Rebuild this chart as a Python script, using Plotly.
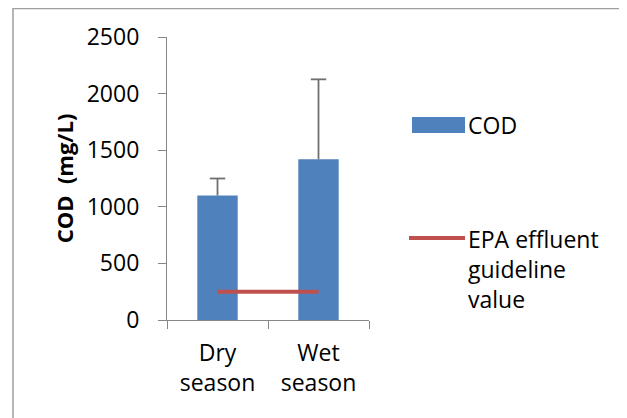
import plotly.graph_objects as go

categories = ["Dry<br>season", "Wet<br>season"]
cod_values = [1100, 1420]
cod_err_plus = [150, 706]
epa_values = [250, 250]
series_names = ["COD", "EPA effluent<br>guideline<br>value"]
y_ticks = [0, 500, 1000, 1500, 2000, 2500]

BLUE = "#4F81BD"
RED = "#C0504D"
AXIS = "#868686"
ERR = "#6f6f6f"
FONT = "Open Sans"
FS = 23

fig = go.Figure()
fig.add_trace(go.Bar(
    x=categories, y=cod_values, name=series_names[0],
    marker=dict(color=BLUE, line=dict(width=0)),
    showlegend=False,
))
# plus-only error bars (stem + top cap)
err_x, err_y = [], []
for c, v, e in zip(categories, cod_values, cod_err_plus):
    err_x += [c, c, None]
    err_y += [v, v + e, None]
fig.add_trace(go.Scatter(
    x=err_x, y=err_y, mode="lines", line=dict(color=ERR, width=1.8),
    showlegend=False, hoverinfo="skip",
))
fig.add_trace(go.Scatter(
    x=categories, y=[v + e for v, e in zip(cod_values, cod_err_plus)],
    mode="markers",
    marker=dict(symbol="line-ew", size=11, line=dict(color=ERR, width=1.8)),
    showlegend=False, hoverinfo="skip",
))
fig.add_trace(go.Scatter(
    x=categories, y=epa_values, name=series_names[1], mode="lines",
    line=dict(color=RED, width=4), showlegend=False,
))

# page body has an 8px margin, so figure origin is at (8, 8) in the window
OFF = 8
W, H = 627 - OFF, 418 - OFF
L, R, T, B = 167, 369, 37, 320   # plot area in window pixels
def px(xp):
    return (xp - L) / (R - L)
def py(yp):
    return (B - yp) / (B - T)

shapes = [
    dict(type="rect", xref="paper", yref="paper",
         x0=px(13), x1=px(720), y0=py(470), y1=py(8.5),
         line=dict(color="#a0a0a0", width=1.5), layer="below"),
    dict(type="rect", xref="paper", yref="paper",
         x0=px(412), x1=px(465), y0=py(133), y1=py(117),
         fillcolor=BLUE, line=dict(width=0)),
    dict(type="line", xref="paper", yref="paper",
         x0=px(409), x1=px(465), y0=py(238), y1=py(238),
         line=dict(color=RED, width=4)),
]
annotations = [
    dict(xref="paper", yref="paper", x=px(466), y=py(125), text=series_names[0],
         showarrow=False, xanchor="left", yanchor="middle", align="left",
         font=dict(family=FONT, size=FS, color="black")),
    dict(xref="paper", yref="paper", x=px(466), y=py(221), text=series_names[1],
         showarrow=False, xanchor="left", yanchor="top", align="left",
         font=dict(family=FONT, size=FS, color="black")),
]

fig.update_layout(
    width=W, height=H,
    margin=dict(l=L - OFF, r=627 - R, t=T - OFF, b=418 - B, autoexpand=False),
    paper_bgcolor="white", plot_bgcolor="white",
    bargap=0.6,
    font=dict(family=FONT, size=FS, color="black"),
    shapes=shapes, annotations=annotations,
    xaxis=dict(
        showline=True, linecolor=AXIS, linewidth=1.2,
        ticks="outside", tickson="boundaries", ticklen=8, tickcolor=AXIS,
        showgrid=False, tickfont=dict(family=FONT, size=FS, color="black"),
        ticklabelstandoff=12,
    ),
    yaxis=dict(
        range=[0, 2500], tickvals=y_ticks,
        showline=True, linecolor=AXIS, linewidth=1.2,
        ticks="outside", ticklen=8, tickcolor=AXIS,
        showgrid=False, zeroline=False,
        tickfont=dict(family=FONT, size=FS, color="black"),
        ticklabelstandoff=14,
        title=dict(text="<b>COD  (mg/L)</b>", standoff=6,
                   font=dict(family=FONT, size=22, color="black")),
    ),
)

fig.write_html("out.html")
